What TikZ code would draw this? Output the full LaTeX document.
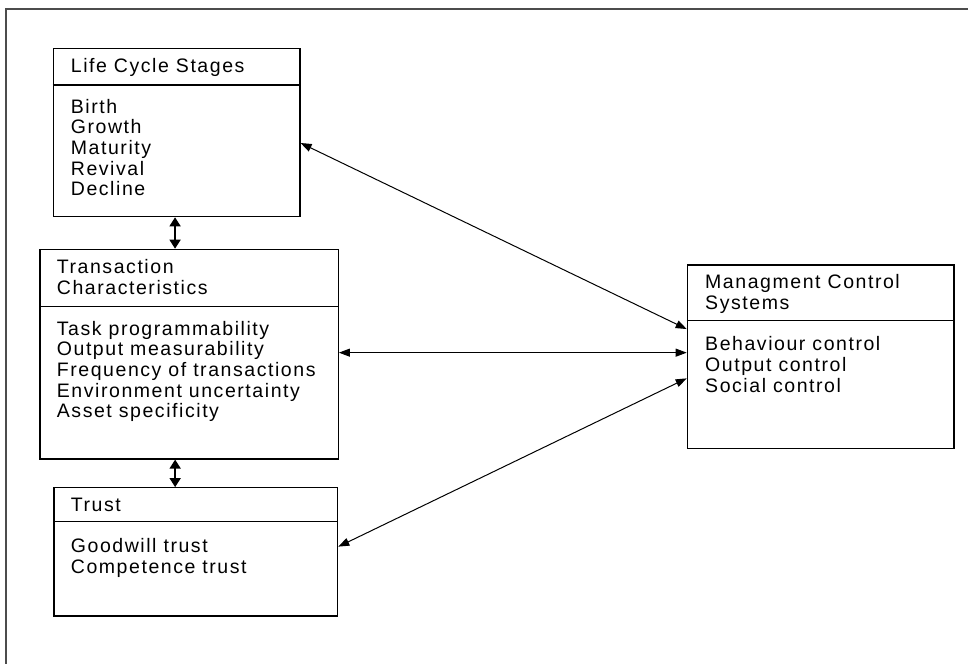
\documentclass[tikz,border=0pt]{standalone}
\usepackage{fontspec}
\setmainfont{Liberation Sans}[LetterSpace=8]
\usetikzlibrary{arrows.meta}
\begin{document}
\begin{tikzpicture}[x=1pt, y=-1pt,
    box/.style={draw, line width=1.2pt, inner sep=0pt},
    txt/.style={anchor=base west, inner sep=0pt, align=left, font=\fontsize{19.5}{20.7}\selectfont},
    link/.style={{Triangle[length=11pt,width=8pt]}-{Triangle[length=11pt,width=8pt]}, line width=1pt},
    stack/.style={{Triangle[length=9pt,width=11pt]}-{Triangle[length=9pt,width=11pt]}, line width=1.6pt}]
        \useasboundingbox (0,0) rectangle (968,664);
        \draw[black!70, line width=1.6pt] (968,9) -- (6,9) -- (6,664);

        % boxes
        \node[box, minimum width=246.7pt, minimum height=168.4pt] (lc) at (176.65,132.5) {};
        \node[box, minimum width=298.3pt, minimum height=209.7pt] (tc) at (189.15,354.15) {};
        \node[box, minimum width=283.7pt, minimum height=128.3pt] (tr) at (195.85,551.85) {};
        \node[box, minimum width=266.7pt, minimum height=183.3pt] (mcs) at (820.65,356.65) {};

        \draw[line width=1.2pt] (lc.west |- 0,85) -- (lc.east |- 0,85);
        \draw[line width=1.2pt] (tc.west |- 0,306.7) -- (tc.east |- 0,306.7);
        \draw[line width=1.2pt] (tr.west |- 0,521.7) -- (tr.east |- 0,521.7);
        \draw[line width=1.2pt] (mcs.west |- 0,320.7) -- (mcs.east |- 0,320.7);

        % texts (placed at the baseline of the last line)
        \node[txt] (lch) at (70.7,72.7) {Life Cycle Stages};
        \node[txt] (lcb) at (70.7,195.8) {Birth\\Growth\\Maturity\\Revival\\Decline};
        \node[txt] (tch) at (56.7,294) {Transaction\\Characteristics};
        \node[txt] (tcb) at (56.7,417.8) {Task programmability\\Output measurability\\Frequency of transactions\\Environment uncertainty\\Asset specificity};
        \node[txt] (trh) at (70.7,511.7) {Trust};
        \node[txt] (trb) at (70.7,573.4) {Goodwill trust\\Competence trust};
        \node[txt] (mcsh) at (705,309) {Managment Control\\Systems};
        \node[txt] (mcsb) at (705,392.1) {Behaviour control\\Output control\\Social control};

        % connectors
        \draw[link] ([yshift=-10.5pt]lc.east) -- ([yshift=27.6pt]mcs.west);
        \draw[link] ([yshift=1.5pt]tc.east) -- ([yshift=4pt]mcs.west);
        \draw[link] ([yshift=5.2pt]tr.east) -- ([yshift=-21.7pt]mcs.west);
        \draw[stack] ([xshift=-1.6pt]lc.south) -- ([xshift=-1.6pt]lc.south |- tc.north);
        \draw[stack] ([xshift=-14pt]tc.south) -- ([xshift=-14pt]tc.south |- tr.north);
\end{tikzpicture}
\end{document}
